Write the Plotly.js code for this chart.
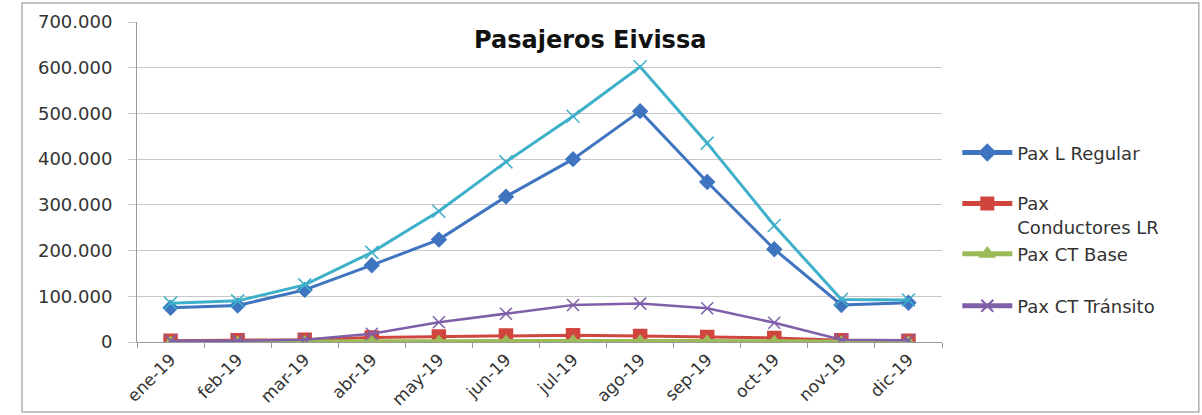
<!DOCTYPE html>
<html>
<head>
<meta charset="utf-8">
<script src="https://cdn.plot.ly/plotly-3.0.1.min.js"></script>
<style>html,body{margin:0;padding:0;background:#fff;}#chart{width:1202px;height:415px;}</style>
</head>
<body>
<div id="chart"></div>
<script>
var months = ["ene-19","feb-19","mar-19","abr-19","may-19","jun-19","jul-19","ago-19","sep-19","oct-19","nov-19","dic-19"];
var paxRegular = [75000, 80000, 114000, 168000, 224000, 318000, 400000, 505000, 350000, 203000, 81000, 86000];
var paxConductores = [3000, 4000, 5000, 10000, 12000, 14000, 15000, 13000, 11000, 9000, 4000, 3000];
var paxCTBase = [1000, 1000, 1500, 2500, 3000, 3500, 4000, 4000, 3500, 2500, 1500, 1000];
var paxCTTransito = [3000, 3000, 5000, 18000, 43000, 62000, 81000, 84000, 74000, 42000, 5000, 4000];
var paxTotal = [85000, 90000, 125000, 196000, 286000, 394000, 494000, 602000, 435000, 255000, 93000, 92000];

var font = "DejaVu Sans, Verdana, sans-serif";

function tr(name, y, color, symbol, size, leg, show) {
  return {
    x: months, y: y, name: name, type: "scatter", mode: "lines+markers",
    line: {color: color, width: 3},
    marker: {symbol: symbol, size: size, color: color, line: {color: color, width: 1.5}},
    legend: leg, showlegend: show
  };
}

var data = [
  tr("Pax L Regular", paxRegular, "#3f74c0", "diamond", 11, "legend", true),
  tr("Pax<br>Conductores LR", paxConductores, "#d0463f", "square", 13, "legend2", true),
  tr("Pax CT Base", paxCTBase, "#9bbb59", "triangle-up", 10, "legend3", true),
  tr("Pax CT Tránsito", paxCTTransito, "#7f5fa8", "x-thin", 12, "legend4", true),
  tr("Total", paxTotal, "#3fb0c9", "x-thin", 13, "legend", false)
];
data[3].line.width = 2.5;

function leg(y, yanchor) {
  return {
    x: 1.019, xanchor: "left", y: y, yanchor: yanchor,
    font: {family: font, size: 18, color: "#333"},
    itemwidth: 50, valign: "top", itemsizing: "constant",
    bgcolor: "rgba(0,0,0,0)"
  };
}

var layout = {
  width: 1202, height: 415,
  margin: {l: 137, r: 260, t: 22, b: 73},
  paper_bgcolor: "#ffffff", plot_bgcolor: "#ffffff",
  separators: ",.",
  font: {family: font, size: 14, color: "#404040"},
  title: {text: "<b>Pasajeros Eivissa</b>", font: {family: font, size: 24, color: "#111"},
          xref: "paper", x: 0.563, xanchor: "center", yref: "container", y: 0.905, yanchor: "middle"},
  xaxis: {
    type: "category", range: [-0.5, 11.5], tickangle: -45,
    showgrid: false, showline: true, linecolor: "#9a9a9a", linewidth: 1,
    ticks: "outside", tickson: "boundaries", ticklen: 5, tickcolor: "#9a9a9a",
    tickfont: {family: font, size: 17, color: "#333"}, fixedrange: true
  },
  yaxis: {
    range: [0, 700000], dtick: 100000, tickformat: ",d",
    showgrid: true, gridcolor: "#c8c8c8", gridwidth: 1,
    showline: true, linecolor: "#9a9a9a", linewidth: 1,
    ticks: "outside", ticklen: 8, tickcolor: "#c8c8c8",
    ticklabelstandoff: 12,
    zeroline: false,
    tickfont: {family: font, size: 18, color: "#333"}, fixedrange: true
  },
  legend: leg(0.591, "middle"),
  legend2: leg(0.49, "top"),
  legend3: leg(0.275, "middle"),
  legend4: leg(0.1125, "middle"),
  shapes: [{
    type: "rect", xref: "paper", yref: "paper",
    x0: -0.1429, x1: 1.319, y0: -0.219, y1: 1.059,
    line: {color: "#b0b0b0", width: 1.5}, fillcolor: "rgba(0,0,0,0)"
  }],
  showlegend: true
};

Plotly.newPlot("chart", data, layout, {displayModeBar: false, staticPlot: true});
</script>
</body>
</html>
